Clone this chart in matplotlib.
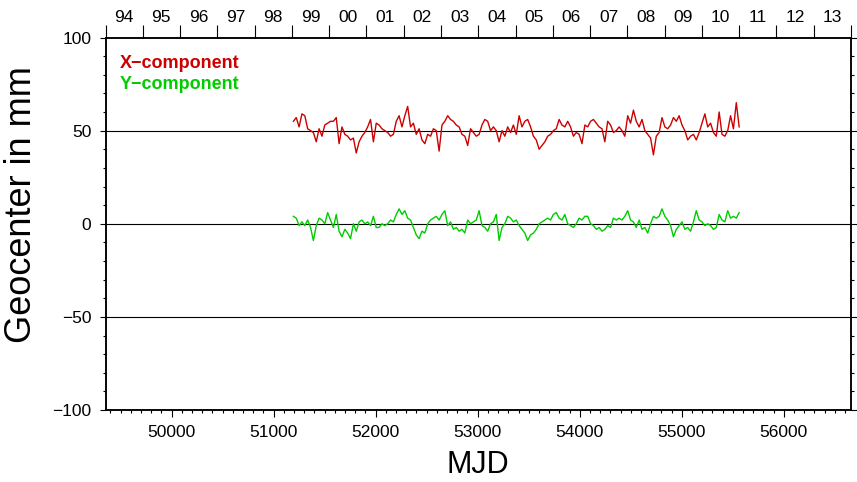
import datetime as dt
import numpy as np
import matplotlib
matplotlib.use("Agg")
import matplotlib.pyplot as plt
from matplotlib.ticker import MultipleLocator, FixedLocator, NullFormatter, FixedFormatter

plt.rcParams['font.family'] = ['Liberation Sans', 'DejaVu Sans']

# Sampling of the geocenter series (MJD of first epoch, spacing in days)
mjd_start = 51194
mjd_step = 28

# Geocenter X-component (mm)
x_comp = [
    55, 57, 52, 59, 58, 51, 50, 49, 44, 51, 47, 53, 54, 55, 55, 57, 43, 52, 48, 47,
    45, 46, 38, 44, 47, 49, 52, 56, 44, 54, 53, 51, 50, 49, 47, 48, 55, 58, 52,
    58, 63, 52, 54, 48, 51, 45, 43, 48, 47, 51, 50, 39, 53, 55, 58, 56, 55, 53, 52,
    48, 47, 42, 51, 49, 47, 48, 53, 56, 55, 50, 52, 50, 44, 50, 47, 52, 49, 53, 48,
    58, 52, 55, 56, 52, 47, 45, 40, 42, 44, 47, 48, 50, 51, 56, 53, 52, 55, 52, 47,
    49, 48, 43, 53, 52, 55, 56, 54, 52, 51, 44, 55, 53, 49, 50, 52, 50, 47, 58, 54,
    61, 55, 52, 56, 50, 48, 46, 37, 47, 49, 57, 52, 51, 53, 57, 55, 58, 53, 50, 45,
    47, 48, 45, 49, 54, 59, 52, 54, 49, 47, 60, 48, 47, 50, 58, 51, 65, 52,
]

# Geocenter Y-component (mm)
y_comp = [
    4, 3, -1, 1, -1, 2, -2, -9, -1, 3, 2, 0, 6, 2, -2, 5, -4, -7, -3, -5,
    -8, 0, -4, 1, 2, 0, 1, -1, 4, -2, -2, 0, -1, 0, 2, 1, 5, 8, 5,
    7, 3, 2, -2, -6, -8, -4, -5, 0, 2, 3, 4, 2, 5, 7, -1, 1, -3, -2, -4,
    -3, -5, 2, 0, 1, 2, 7, -1, -2, -4, 0, 1, 5, -9, -2, 0, 4, 3, 1, 2,
    -1, -3, -5, -9, -6, -5, -3, 0, 1, 2, 3, 2, 5, 6, 3, 2, 5, 0, -1, -2,
    0, 3, 2, 4, 4, 0, -1, -3, -2, -4, -3, -1, -2, 3, 2, 3, 2, 4, 7, 2,
    1, -2, 2, -3, -2, -5, 0, 4, 3, 4, 8, 4, 2, -1, -7, -3, -1, 1, -3, -2,
    -4, 1, 7, 2, 1, -1, 0, -1, -3, -2, 5, 2, 1, 7, 3, 4, 3, 6,
]

# Calendar years shown along the top edge
years = list(range(1994, 2014))
year_labels = ['94', '95', '96', '97', '98', '99', '00', '01', '02', '03',
               '04', '05', '06', '07', '08', '09', '10', '11', '12', '13']

series_names = ['X\u2212component', 'Y\u2212component']
series_colors = ['#cc0000', '#00cc00']


def mjd_of(date):
    return (date - dt.date(1858, 11, 17)).days


mjd = mjd_start + mjd_step * np.arange(len(x_comp))
year_edges = [mjd_of(dt.date(y, 1, 1)) for y in years + [years[-1] + 1]]
year_mids = [(a + b) / 2 for a, b in zip(year_edges[:-1], year_edges[1:])]

W, H = 857, 482
fig = plt.figure(figsize=(W / 100, H / 100), dpi=100)
left, right, top, bottom = 105.5, 851.0, 37.5, 410.0
ax = fig.add_axes([left / W, 1 - bottom / H, (right - left) / W, (bottom - top) / H])

ax.set_xlim(year_edges[0], year_edges[-1])
ax.set_ylim(-100, 100)

for yv in (-50, 0, 50):
    ax.axhline(yv, color='black', lw=0.8, zorder=1, clip_on=False)

ax.plot(mjd, x_comp, color=series_colors[0], lw=1.0, zorder=3)
ax.plot(mjd, y_comp, color=series_colors[1], lw=1.0, zorder=3)

for sp in ax.spines.values():
    sp.set_linewidth(1.1)

# MJD axis along the bottom
ax.xaxis.set_major_locator(MultipleLocator(1000))
ax.xaxis.set_minor_locator(MultipleLocator(100))
ax.tick_params(axis='x', which='major', direction='out', length=5, width=0.8,
               labelsize=12.5, pad=6, top=False, bottom=True)
ax.tick_params(axis='x', which='minor', direction='out', length=2.2, width=0.8,
               top=False, bottom=True)

# Value axis on both sides
ax.yaxis.set_major_locator(MultipleLocator(50))
ax.yaxis.set_minor_locator(MultipleLocator(10))
ax.tick_params(axis='y', which='major', direction='out', length=4.3, width=0.8,
               labelsize=12.5, pad=6, left=True, right=True)
ax.tick_params(axis='y', which='minor', direction='out', length=2.0, width=0.8,
               left=True, right=True)
ax.yaxis.set_major_formatter(plt.FuncFormatter(
    lambda v, p: f"{int(v)}".replace('-', '\u2212')))

ax.set_xlabel('MJD', fontsize=22, labelpad=7)
fig.text(22 / W, 1 - 205 / H, 'Geocenter in mm', fontsize=26, rotation=90,
         ha='center', va='center')

# Year axis along the top
ax2 = ax.twiny()
ax2.set_xlim(ax.get_xlim())
ax2.xaxis.set_major_locator(FixedLocator(year_edges))
ax2.xaxis.set_major_formatter(NullFormatter())
ax2.xaxis.set_minor_locator(FixedLocator(year_mids))
ax2.xaxis.set_minor_formatter(FixedFormatter(year_labels))
ax2.tick_params(axis='x', which='major', direction='out', length=9.4, width=0.8)
ax2.tick_params(axis='x', which='minor', length=0, labelsize=12.5, pad=9)
for sp in ax2.spines.values():
    sp.set_linewidth(1.1)

# Series labels
ax.text(0.0195, 0.93, series_names[0], transform=ax.transAxes, color=series_colors[0],
        fontsize=13, fontweight='bold', va='center', ha='left')
ax.text(0.0195, 0.875, series_names[1], transform=ax.transAxes, color=series_colors[1],
        fontsize=13, fontweight='bold', va='center', ha='left')

fig.savefig('out.png', dpi=100)
